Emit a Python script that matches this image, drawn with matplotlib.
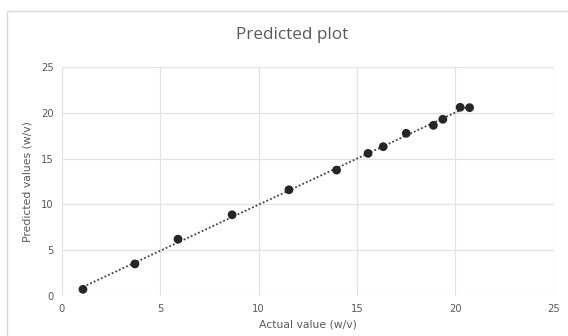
import matplotlib
matplotlib.use("Agg")
import matplotlib.pyplot as plt
import numpy as np
from matplotlib.patches import Rectangle

actual = [1.07, 3.71, 5.90, 8.65, 11.54, 13.96, 15.56, 16.33, 17.50, 18.88, 19.36, 20.24, 20.72]
predicted = [0.73, 3.50, 6.20, 8.86, 11.59, 13.74, 15.56, 16.29, 17.75, 18.62, 19.28, 20.59, 20.55]
ticks = [0, 5, 10, 15, 20, 25]

fig = plt.figure(figsize=(5.68, 3.36), dpi=100)
ax = fig.add_axes([0.109, 0.119, 0.866, 0.682])

grid_c = "#E3E3E3"
text_c = "#595959"

ax.set_xlim(0, 25)
ax.set_ylim(0, 25)
ax.set_xticks(ticks)
ax.set_yticks(ticks)
ax.grid(True, color=grid_c, linewidth=0.9)
ax.set_axisbelow(True)
for s in ax.spines.values():
    s.set_visible(False)
ax.tick_params(length=0, labelsize=7.2, colors=text_c, pad=6)

# trendline (linear fit)
x = np.array(actual)
y = np.array(predicted)
m, b = np.polyfit(x, y, 1)
xs = np.array([x.min(), x.max()])
ax.plot(xs, m * xs + b, linestyle=(0, (1, 1.2)), color="#404040", linewidth=1.3, zorder=2)

ax.scatter(actual, predicted, s=40, color="#262626", zorder=3, edgecolors="none")

ax.set_xlabel("Actual value (w/v)", fontsize=7.8, color=text_c, labelpad=4)
ax.set_ylabel("Predicted values (w/v)", fontsize=7.8, color=text_c, labelpad=6)

fig.text(0.514, 0.896, "Predicted plot", ha="center", va="center", fontsize=12.3,
         color=text_c, family="Open Sans")

fig.patches.append(Rectangle((7 / 568, -0.1), 1.2, (336 - 11) / 336 + 0.1,
                             transform=fig.transFigure, fill=False,
                             edgecolor="#D9D9D9", linewidth=1.0))

fig.savefig("out.png", dpi=100)
